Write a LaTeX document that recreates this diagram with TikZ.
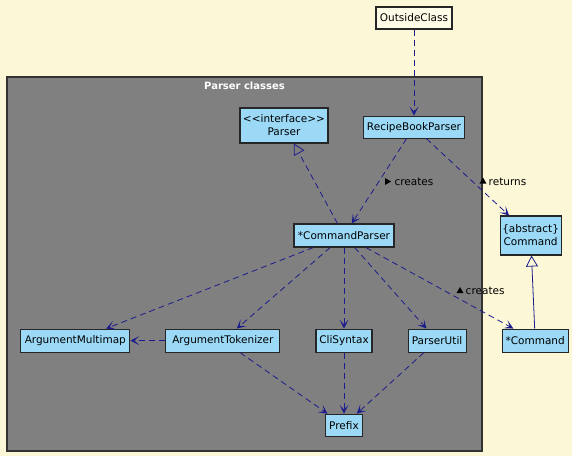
\documentclass[tikz,border=0pt]{standalone}
\usepackage{fontspec}
\setmainfont{DejaVu Sans}
\usetikzlibrary{positioning,arrows.meta,shapes.geometric}

\definecolor{bgcream}{RGB}{251,247,215}
\definecolor{outcream}{RGB}{254,252,230}
\definecolor{clsblue}{RGB}{155,217,246}
\definecolor{arrowblue}{RGB}{28,28,140}
\definecolor{pkggray}{RGB}{128,128,128}

\tikzset{
  cls/.style={rectangle, draw=black!85, line width=1.1pt, fill=clsblue, inner sep=1pt,
    minimum height=23pt, align=center, font=\fontsize{10.5}{13}\selectfont},
  dep/.style={draw=arrowblue, line width=0.8pt, dash pattern=on 6pt off 4pt,
    -{Stealth[length=9pt,width=9pt,inset=5pt]}},
  impl/.style={draw=arrowblue, line width=0.8pt, dash pattern=on 6pt off 4pt,
    -{Triangle[open,length=11pt,width=12pt]}},
  ext/.style={draw=arrowblue, line width=0.8pt, -{Triangle[open,length=11pt,width=12pt]}},
  lbl/.style={inner sep=0pt, font=\fontsize{10.5}{13}\selectfont},
  tri/.style={isosceles triangle, isosceles triangle apex angle=60, fill=black,
    inner sep=0pt, minimum height=6pt, minimum width=6pt},
}

\begin{document}
\begin{tikzpicture}[x=1pt, y=-1pt]

    \fill[bgcream] (0,0) rectangle (572,456);
    \useasboundingbox (0,0) rectangle (572,456);

    %% package frame
    \node[rectangle, draw=black!80, line width=1.2pt, fill=pkggray,
      minimum width=475pt, minimum height=374pt] (pkg) at (244.5,264) {};
    \node[below=5pt of pkg.north, inner sep=0pt, text=white,
      font=\fontsize{10}{12}\selectfont\bfseries] (pkgtext) {Parser classes};

    \node[cls, fill=outcream, minimum width=76pt, minimum height=22pt] (outside) at (414,18) {OutsideClass};
    \node[cls, below=86pt of outside, minimum width=101pt, minimum height=22pt] (rbp) {RecipeBookParser};
    \node[cls, minimum width=88pt, minimum height=35pt] (iparser) at (284,125.5) {<{}<interface>{}>\\Parser};

    \node[cls, minimum width=100pt] (cmdp) at (344,235.5) {*CommandParser};
    \node[cls, right=105pt of cmdp, minimum width=61pt, minimum height=39pt] (abscmd) {\{abstract\}\\Command};

    %% bottom row
    \node[cls, below=81pt of cmdp, minimum width=56pt] (clisyn) {CliSyntax};
    \node[cls, left=35pt of clisyn, minimum width=114pt] (argtok) {ArgumentTokenizer};
    \node[cls, left=35pt of argtok, minimum width=109pt] (argmm) {ArgumentMultimap};
    \node[cls, right=35pt of clisyn, minimum width=58pt] (putil) {ParserUtil};
    \node[cls, right=35pt of putil, minimum width=66pt] (cmd) {*Command};
    \node[cls, below=61pt of clisyn, minimum width=37pt, minimum height=22pt] (prefix) {Prefix};

    \draw[dep] (outside) -- (rbp);
    \draw[dep] (rbp) -- (cmdp);
    \draw[dep] (rbp) -- (abscmd);
    \draw[impl] (cmdp) -- (iparser);

    \draw[dep] (cmdp) -- (argmm);
    \draw[dep] (cmdp) -- (argtok);
    \draw[dep] (cmdp) -- (clisyn);
    \draw[dep] (cmdp) -- (putil);
    \draw[dep] (cmdp) -- (cmd);
    \draw[dep] (argtok) -- (argmm);

    \draw[dep] (argtok) -- (prefix);
    \draw[dep] (clisyn) -- (prefix);
    \draw[dep] (putil) -- (prefix);

    \draw[ext] (cmd) -- (abscmd);

    %% edge labels
    \node[tri, shape border rotate=-10] (tricreates) at (387,181.5) {};
    \node[lbl, right=3pt of tricreates] (creates) {creates};
    \node[tri, shape border rotate=110] (trireturns) at (483,181.5) {};
    \node[lbl, right=3pt of trireturns] (returns) {returns};
    \node[tri, shape border rotate=90] (tricmd) at (460,291) {};
    \node[lbl, right=3pt of tricmd] (createscmd) {creates};

\end{tikzpicture}
\end{document}
